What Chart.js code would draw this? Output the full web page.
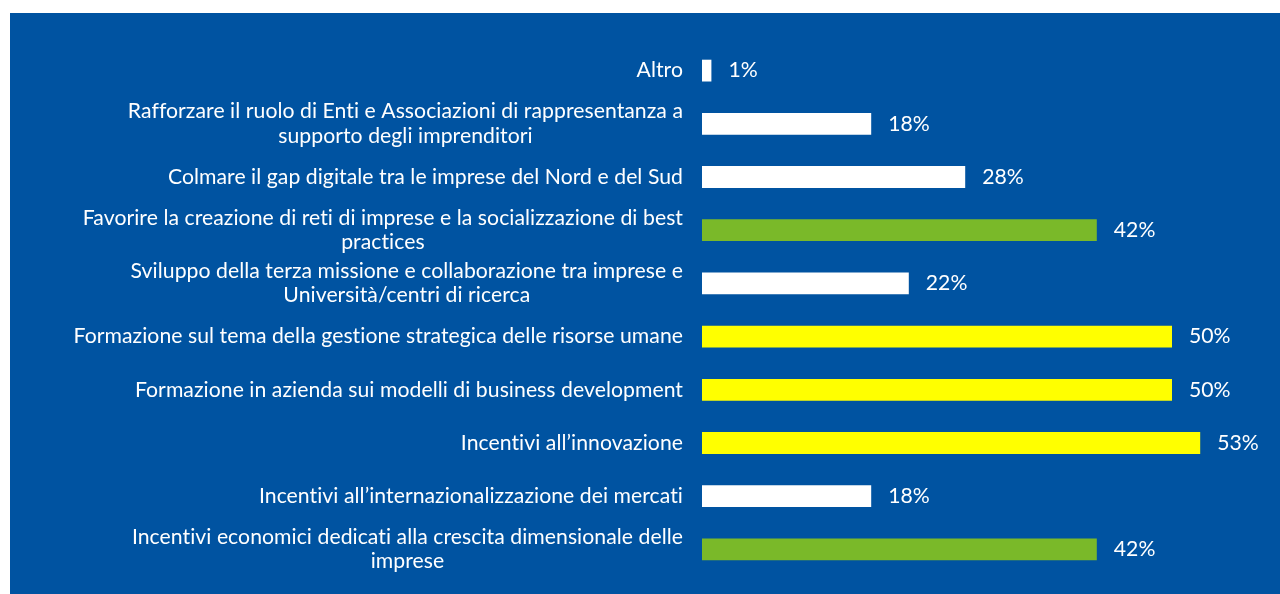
<!DOCTYPE html>
<html>
<head>
<meta charset="utf-8">
<script src="https://cdn.jsdelivr.net/npm/chart.js@4"></script>
<style>
  body { margin: 0; background: #fff; }
  #panel { position: absolute; left: 10px; top: 13px; width: 1270px; height: 581px; background: #0053A1; }
</style>
</head>
<body>
<div id="panel"><canvas id="chart" width="1270" height="581"></canvas></div>
<script>
// categories, top to bottom
const labels = [
    ["Altro"],
    ["Rafforzare il ruolo di Enti e Associazioni di rappresentanza a", "supporto degli imprenditori"],
    ["Colmare il gap digitale tra le imprese del Nord e del Sud"],
    ["Favorire la creazione di reti di imprese e la socializzazione di best", "practices"],
    ["Sviluppo della terza missione e collaborazione tra imprese e", "Università/centri di ricerca"],
    ["Formazione sul tema della gestione strategica delle risorse umane"],
    ["Formazione in azienda sui modelli di business development"],
    ["Incentivi all’innovazione"],
    ["Incentivi all’internazionalizzazione dei mercati"],
    ["Incentivi economici dedicati alla crescita dimensionale delle", "imprese"]
];
const values = [1, 18, 28, 42, 22, 50, 50, 53, 18, 42];
const barColors = ["#ffffff", "#ffffff", "#ffffff", "#7AB929", "#ffffff", "#FFFF00", "#FFFF00", "#FFFF00", "#ffffff", "#7AB929"];

const FONT = "21.2px Lato";

// draws the category labels: block right aligned, lines centred inside it
const catLabels = {
    id: "catLabels",
    afterDraw(chart) {
        const ctx = chart.ctx;
        const y = chart.scales.y;
        ctx.save();
        ctx.font = FONT;
        ctx.letterSpacing = "0.05px"; // stops the "ti" ligature
        ctx.fillStyle = "#ffffff";
        ctx.textAlign = "center";
        ctx.textBaseline = "middle";
        const right = chart.chartArea.left - 19;
        labels.forEach((lines, i) => {
            const w = Math.max(...lines.map(l => ctx.measureText(l).width));
            const cx = right - w / 2;
            const cy = y.getPixelForValue(i);
            const lh = 24.5;
            lines.forEach((l, k) => {
                ctx.fillText(l, cx, cy + (k - (lines.length - 1) / 2) * lh);
            });
        });
        ctx.restore();
    }
};

// value labels at the end of each bar
const valueLabels = {
    id: "valueLabels",
    afterDatasetsDraw(chart) {
        const ctx = chart.ctx;
        const meta = chart.getDatasetMeta(0);
        ctx.save();
        ctx.font = FONT;
        ctx.fillStyle = "#ffffff";
        ctx.textAlign = "left";
        ctx.textBaseline = "middle";
        meta.data.forEach((bar, i) => {
            ctx.fillText(values[i] + "%", bar.x + 17, bar.y);
        });
        ctx.restore();
    }
};

new Chart(document.getElementById("chart"), {
    type: "bar",
    data: {
        labels: labels,
        datasets: [{
            data: values,
            backgroundColor: barColors,
            borderWidth: 0,
            categoryPercentage: 1,
            barPercentage: 0.41
        }]
    },
    options: {
        indexAxis: "y",
        responsive: false,
        animation: false,
        layout: { padding: { top: 31, bottom: 18, right: 14, left: 0 } },
        plugins: { legend: { display: false }, tooltip: { enabled: false } },
        scales: {
            x: { display: false, min: 0, max: 60 },
            y: {
                grid: { display: false, drawTicks: false },
                border: { display: false },
                ticks: { display: false },
                afterFit(scale) { scale.width = 692; }
            }
        }
    },
    plugins: [catLabels, valueLabels]
});
</script>
</body>
</html>
